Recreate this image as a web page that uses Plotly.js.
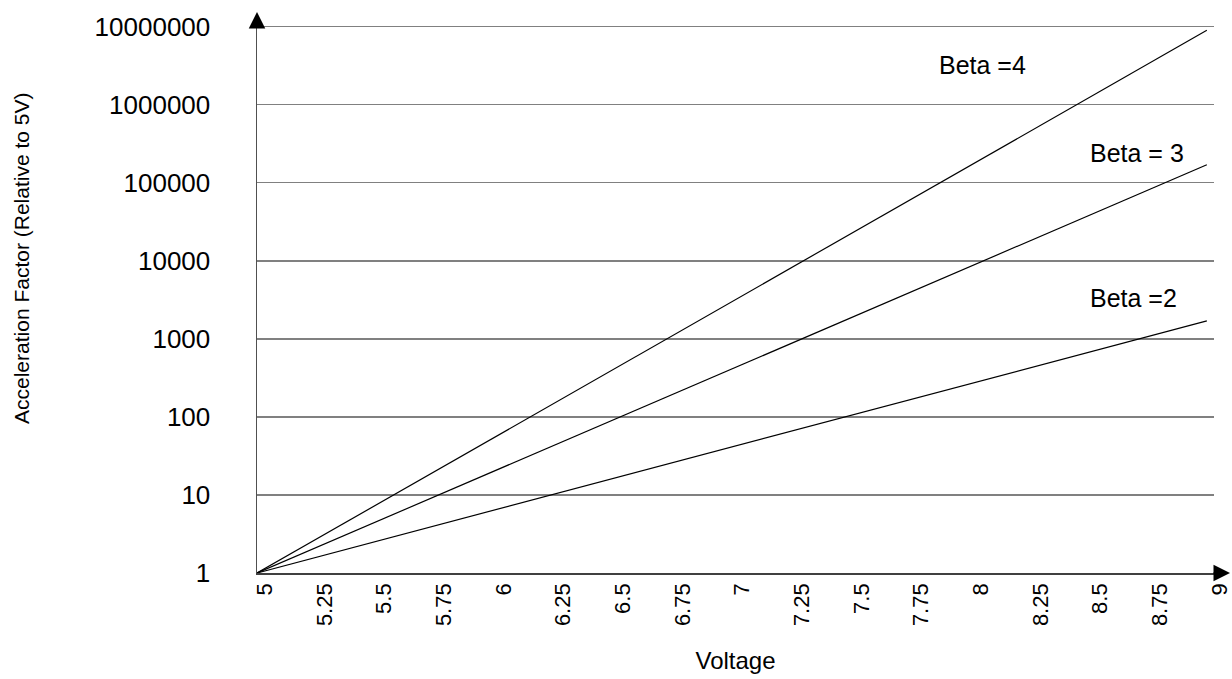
<!DOCTYPE html>
<html>
<head>
<meta charset="utf-8">
<script src="https://cdn.plot.ly/plotly-3.0.1.min.js"></script>
<style>html,body{margin:0;padding:0;background:#fff;}#chart{width:1232px;height:679px;}</style>
</head>
<body>
<div id="chart"></div>
<script>
// Voltage (x) and acceleration factor relative to 5V (y, log scale)
var voltage = [5, 8.98];
var beta4 = [1, 9.0e6];
var beta3 = [1, 1.7e5];
var beta2 = [1, 1.7e3];

var seriesNames = ['Beta =4', 'Beta = 3', 'Beta =2'];

var xTickVals = [5, 5.25, 5.5, 5.75, 6, 6.25, 6.5, 6.75, 7, 7.25, 7.5, 7.75, 8, 8.25, 8.5, 8.75, 9];
var xTickText = ['5', '5.25', '5.5', '5.75', '6', '6.25', '6.5', '6.75', '7', '7.25', '7.5', '7.75', '8', '8.25', '8.5', '8.75', '9'];
var yTickVals = [1, 10, 100, 1000, 10000, 100000, 1000000, 10000000];
var yTickText = ['1', '10', '100', '1000', '10000', '100000', '1000000', '10000000'];

var FONT = 'Liberation Sans, Arial, sans-serif';
var lineStyle = {color: '#000000', width: 1.2};

var traces = [
  {x: voltage, y: beta4, name: seriesNames[0], mode: 'lines', line: lineStyle, type: 'scatter'},
  {x: voltage, y: beta3, name: seriesNames[1], mode: 'lines', line: lineStyle, type: 'scatter'},
  {x: voltage, y: beta2, name: seriesNames[2], mode: 'lines', line: lineStyle, type: 'scatter'}
];

var layout = {
  width: 1232, height: 679,
  margin: {l: 257, r: 18, t: 24, b: 106},
  paper_bgcolor: '#ffffff', plot_bgcolor: '#ffffff',
  showlegend: false,
  font: {family: FONT, color: '#000000'},
  xaxis: {
    range: [5, 9.01],
    tickvals: xTickVals, ticktext: xTickText,
    tickangle: -90,
    tickfont: {family: FONT, size: 22, color: '#000000'},
    ticks: '', showgrid: false, zeroline: false,
    showline: true, linecolor: '#404040', linewidth: 1.5,
    ticklabelstandoff: 0, ticklabelshift: 8,
    title: {text: 'Voltage', font: {family: FONT, size: 24, color: '#000000'}, standoff: 27}
  },
  yaxis: {
    type: 'log',
    range: [0, 7.035],
    tickvals: yTickVals, ticktext: yTickText,
    tickfont: {family: FONT, size: 26, color: '#000000'},
    ticks: '', showgrid: true, gridcolor: '#808080', gridwidth: 1.3,
    zeroline: false,
    showline: true, linecolor: '#505050', linewidth: 1.5,
    ticklabelstandoff: 40
  },
  annotations: [
    {xref: 'paper', yref: 'paper', x: -0.246, y: 0.573, xanchor: 'center', yanchor: 'middle',
     text: 'Acceleration Factor (Relative to 5V)',
     textangle: -90, showarrow: false, font: {family: FONT, size: 21, color: '#000000'}},
    {xref: 'x', yref: 'y', x: 7.85, y: 6.51, text: seriesNames[0], xanchor: 'left', showarrow: false,
     font: {family: FONT, size: 25, color: '#000000'}},
    {xref: 'x', yref: 'y', x: 8.48, y: 5.38, text: seriesNames[1], xanchor: 'left', showarrow: false,
     font: {family: FONT, size: 25, color: '#000000'}},
    {xref: 'x', yref: 'y', x: 8.48, y: 3.53, text: seriesNames[2], xanchor: 'left', showarrow: false,
     font: {family: FONT, size: 25, color: '#000000'}},
    // axis arrow extensions
    {xref: 'paper', yref: 'paper', x: 0, y: 1 + 12 / 549, ax: 0, ay: 14, text: '', showarrow: true,
     arrowhead: 2, arrowsize: 2.2, arrowwidth: 1.5, arrowcolor: '#000000', standoff: 0},
    {xref: 'paper', yref: 'paper', x: 1 + 16 / 957, y: 0, ax: -18, ay: 0, text: '', showarrow: true,
     arrowhead: 2, arrowsize: 2.2, arrowwidth: 1.5, arrowcolor: '#000000', standoff: 0}
  ]
};

Plotly.newPlot('chart', traces, layout, {displayModeBar: false, staticPlot: true});
</script>
</body>
</html>
